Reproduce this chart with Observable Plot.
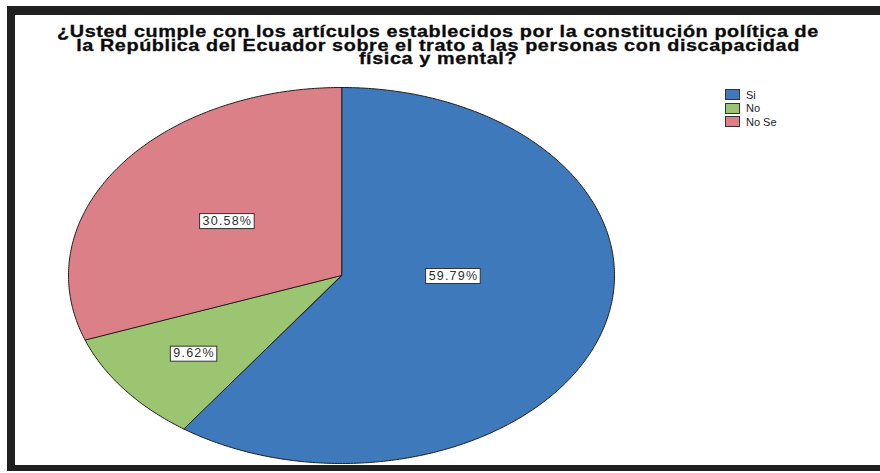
<!DOCTYPE html>
<html>
<head>
<meta charset="utf-8">
<script src="https://cdn.jsdelivr.net/npm/d3@7"></script>
<script src="https://cdn.jsdelivr.net/npm/@observablehq/plot@0.6"></script>
<style>
  html, body { margin: 0; padding: 0; background: #fff; overflow: hidden; }
  #wrap { position: relative; width: 880px; height: 473px; overflow: hidden; background: #fff; }
  #frame { position: absolute; left: 7px; top: 6px; width: 900px; height: 465px; box-sizing: border-box;
           border-top: 9px solid #202020; border-left: 8px solid #202020; border-bottom: 6px solid #202020; }
  #title { position: absolute; left: -2px; top: 25px; width: 880px; text-align: center;
           font-family: "Liberation Sans", Arial, sans-serif; font-weight: bold; font-size: 16.5px;
           line-height: 13.6px; letter-spacing: 0.5px; color: #0a0a0a; -webkit-text-stroke: 0.3px #0a0a0a;
           transform: scaleX(1.2); transform-origin: 440px 0; }
  #chart { position: absolute; left: 0; top: 0; }
  #legend { position: absolute; left: 725px; top: 88px; font-family: "Liberation Sans", Arial, sans-serif;
            font-size: 11px; color: #222; }
  #legend .row { display: flex; align-items: center; height: 13.5px; }
  #legend .sw { width: 15px; height: 11px; box-sizing: border-box; border: 1px solid #333; margin-right: 6px; }
</style>
</head>
<body>
<div id="wrap">
  <div id="frame"></div>
  <div id="chart"></div>
  <div id="title"></div>
  <div id="legend"></div>
</div>
<script>
// ---- data ----
const titleLines = [
  "¿Usted cumple con los artículos establecidos por la constitución política de",
  "la República del Ecuador sobre el trato a las personas con discapacidad",
  "física y mental?"
];
const categories = ["Si", "No", "No Se"];
const percentages = [59.79, 9.62, 30.58];
const labels = ["59.79%", "9.62%", "30.58%"];
const colours = ["#3d79bb", "#9cc571", "#dc8088"];

// ---- build ----
const rows = categories.map((c, i) => ({cat: c, value: percentages[i], label: labels[i]}));
const arcs = d3.pie().sort(null).value(d => d.value)(rows);

const points = [];
for (const a of arcs) {
  points.push({cat: a.data.cat, x: 0, y: 0});
  const n = Math.max(2, Math.ceil((a.endAngle - a.startAngle) / 0.01));
  for (let k = 0; k <= n; ++k) {
    const t = a.startAngle + (a.endAngle - a.startAngle) * k / n;
    points.push({cat: a.data.cat, x: Math.sin(t), y: -Math.cos(t)});
  }
}

function labelPoint(a) {
  const mid = (a.startAngle + a.endAngle) / 2, span = a.endAngle - a.startAngle;
  if (span > Math.PI) return [0.41 * Math.sign(Math.sin(mid)), 0];
  const f = span < Math.PI / 3 ? 0.68 : 0.51;
  return [f * Math.sin(mid), -f * Math.cos(mid)];
}
const labelRows = arcs.map(a => {
  const [x, y] = labelPoint(a);
  return {x, y, text: a.data.label};
});

const plot = Plot.plot({
  width: 880,
  height: 473,
  margin: 0,
  style: {background: "transparent", overflow: "visible"},
  x: {domain: [-1, 1], range: [68, 614], axis: null},
  y: {domain: [-1, 1], range: [87, 463], axis: null},
  color: {domain: categories, range: colours},
  marks: [
    Plot.line(points, {x: "x", y: "y", z: "cat", fill: "cat", stroke: "#1e1e1e", strokeWidth: 1, curve: "linear-closed"}),
    Plot.text(labelRows, {x: "x", y: "y", text: "text", fill: "#303030", fontSize: 12.5,
      fontFamily: "Liberation Sans, Arial, sans-serif"})
  ]
});
document.getElementById("chart").appendChild(plot);

// label boxes
plot.querySelectorAll('g[aria-label="text"] text').forEach(t => {
  t.setAttribute("letter-spacing", "1.2");
  const b = t.getBBox();
  const r = document.createElementNS("http://www.w3.org/2000/svg", "rect");
  const tr = t.getAttribute("transform");
  if (tr) r.setAttribute("transform", tr);
  r.setAttribute("x", b.x - 3);
  r.setAttribute("y", b.y);
  r.setAttribute("width", b.width + 5);
  r.setAttribute("height", b.height + 1);
  r.setAttribute("fill", "#fff");
  r.setAttribute("stroke", "#333");
  r.setAttribute("stroke-width", "1");
  t.parentNode.insertBefore(r, t);
});

// title
const title = document.getElementById("title");
titleLines.forEach(l => { const d = document.createElement("div"); d.textContent = l; title.appendChild(d); });

// legend
const legend = document.getElementById("legend");
categories.forEach((c, i) => {
  const row = document.createElement("div"); row.className = "row";
  const sw = document.createElement("div"); sw.className = "sw"; sw.style.background = colours[i];
  const tx = document.createElement("span"); tx.textContent = c;
  row.appendChild(sw); row.appendChild(tx); legend.appendChild(row);
});
</script>
</body>
</html>
